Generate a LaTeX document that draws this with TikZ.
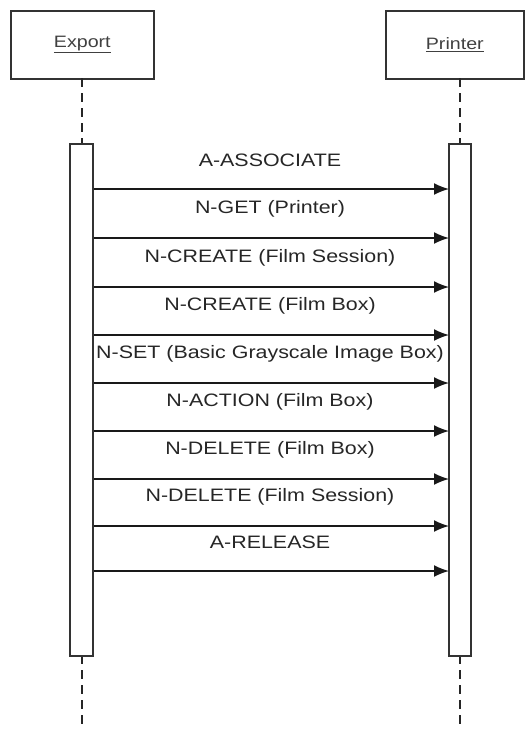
\documentclass[tikz,border=0pt]{standalone}
\usepackage{fontspec}
\setmainfont{Liberation Sans}
\usetikzlibrary{arrows.meta}
\newcommand{\wid}[1]{\scalebox{1.19}[1]{#1}}
\begin{document}
\begin{tikzpicture}[x=1pt,y=-1pt,
  objbox/.style={draw=black!80,line width=1.6pt,minimum width=143pt,minimum height=68pt,inner sep=0pt,anchor=north west,text=black!75,font=\fontsize{16.5}{18}\selectfont},
  actbar/.style={draw=black!80,line width=1.6pt,fill=white,minimum width=23pt,minimum height=512pt,inner sep=0pt,anchor=north},
  lifeline/.style={draw=black!85,line width=1.5pt,dash pattern=on 9pt off 6pt},
  msg/.style={draw=black!90,line width=1.6pt,-{Latex[length=15pt,width=12pt]}},
  lbl/.style={text=black!85,font=\fontsize{18}{20}\selectfont,inner sep=0pt}]
\useasboundingbox (0,0) rectangle (527,729);
% objects
\node[objbox] (exp) at (10,10) {\wid{\underline{Export}}};
\node[objbox,minimum width=138pt] (prn) at (385,10) {\wid{\underline{Printer}}};
% lifelines
\coordinate (et) at (82,78);
\coordinate (eb1) at (82,143);
\coordinate (eb2) at (82,655);
\coordinate (ee) at (82,729);
\coordinate (pt) at (460,78);
\coordinate (pb1) at (460,143);
\coordinate (pb2) at (460,655);
\coordinate (pe) at (460,729);
\draw[lifeline] (et) -- (eb1);
\draw[lifeline] (eb2) -- (ee);
\draw[lifeline] (pt) -- (pb1);
\draw[lifeline] (pb2) -- (pe);
% activation bars
\node[actbar] (ebar) at (81.5,143) {};
\node[actbar,minimum width=22pt] (pbar) at (460,143) {};
% messages
\foreach \i/\y/\t in {1/189/A-ASSOCIATE,2/238/N-GET (Printer),3/287/N-CREATE (Film Session),4/335/N-CREATE (Film Box),5/383/N-SET (Basic Grayscale Image Box),6/431/N-ACTION (Film Box),7/479/N-DELETE (Film Box),8/526/N-DELETE (Film Session),9/571/A-RELEASE}{
  \coordinate (s\i) at (94,\y);
  \coordinate (e\i) at (449,\y);
  \draw[msg] (s\i) -- (e\i);
  \node[lbl] (l\i) at (270,\y-29) {\wid{\t}};
}
\end{tikzpicture}
\end{document}
